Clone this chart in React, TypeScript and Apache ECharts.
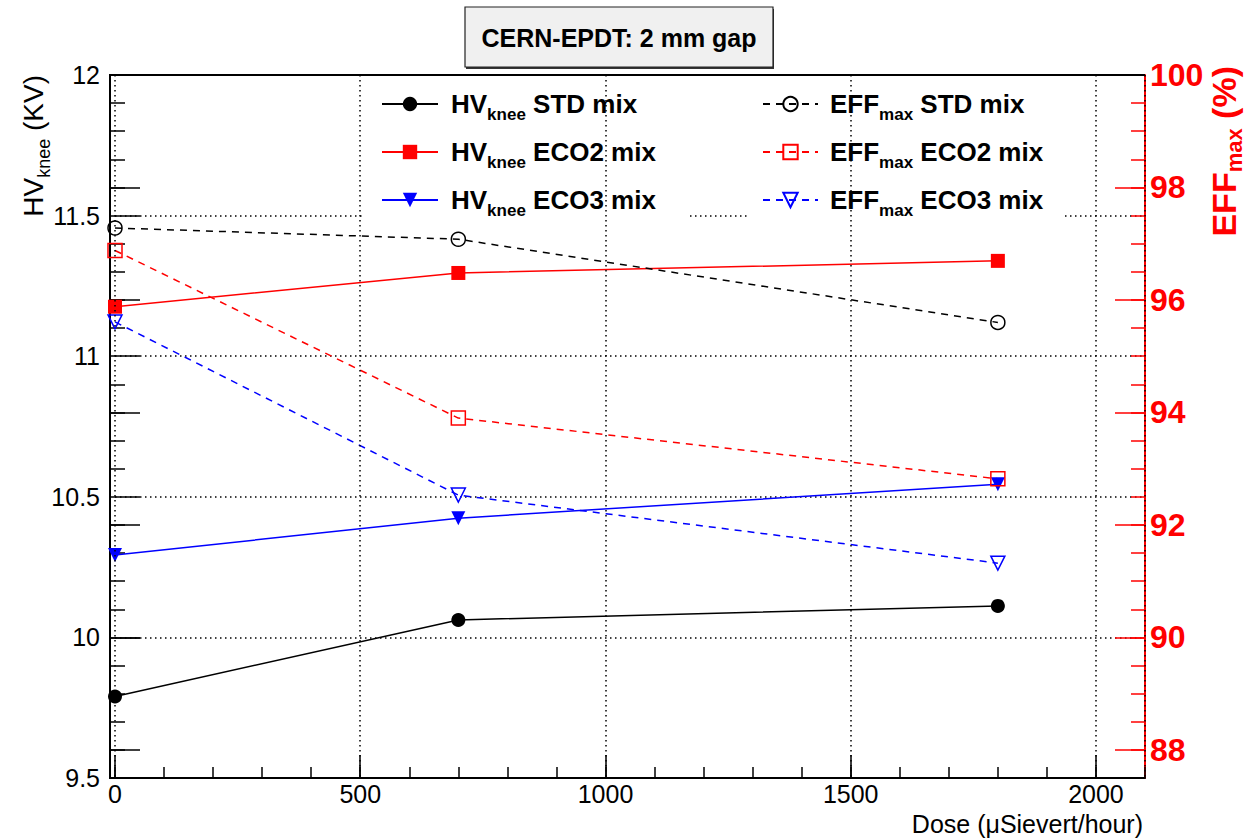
import React, { useEffect, useRef } from 'react';
import * as echarts from 'echarts';

// ---- data ----
const doses = [0, 700, 1800];
const hvStd = [9.79, 10.062, 10.112];
const hvEco2 = [11.176, 11.296, 11.339];
const hvEco3 = [10.293, 10.424, 10.545];
const effStd = [97.28, 97.08, 95.6];
const effEco2 = [96.88, 93.9, 92.82];
const effEco3 = [95.61, 92.53, 91.32];

const hvNames = ['HV_knee STD mix', 'HV_knee ECO2 mix', 'HV_knee ECO3 mix'];
const effNames = ['EFF_max STD mix', 'EFF_max ECO2 mix', 'EFF_max ECO3 mix'];

const titleText = 'CERN-EPDT: 2 mm gap';
const xTitle = 'Dose (\u03bcSievert/hour)';

const F = '"Liberation Sans", Arial, Helvetica, sans-serif';

function richName(name: string, first: string) {
  const [a, rest] = name.split('_');
  const parts = rest.split(' ');
  const sub = parts[0];
  return `{${first}|${a}}{s|${sub}}{m| ${parts.slice(1).join(' ')}}`;
}

function makeSeries(
  name: string,
  vals: number[],
  yIdx: number,
  color: string,
  symbol: string,
  filled: boolean,
  dashed: boolean,
  rotate = 0
) {
  return {
    type: 'line',
    name,
    xAxisIndex: 0,
    yAxisIndex: yIdx,
    data: doses.map((d, i) => [d, vals[i]]),
    symbol,
    symbolSize: 14,
    symbolRotate: rotate,
    showSymbol: true,
    clip: false,
    z: 3,
    lineStyle: { color, width: 1.5, type: dashed ? [7, 6] : 'solid' },
    itemStyle: filled
      ? { color, borderWidth: 0 }
      : { color: 'rgba(255,255,255,0)', borderColor: color, borderWidth: 1.5 },
    emphasis: { disabled: true },
  };
}

export default function App() {
  const ref = useRef<HTMLDivElement>(null);
  useEffect(() => {
    const chart = echarts.init(ref.current!, null, { renderer: 'svg' });
    const legendRich = (pad: number) => ({
      f: { fontSize: 26, fontWeight: 'bold', fontFamily: F, color: '#000', padding: [0, 0, 0, pad] },
      m: { fontSize: 26, fontWeight: 'bold', fontFamily: F, color: '#000' },
      s: { fontSize: 17, fontWeight: 'bold', fontFamily: F, color: '#000', padding: [20, 0, 0, 0] },
    });
    const noFmt = (v: number) => String(v);
    const option: any = {
      animation: false,
      backgroundColor: '#fff',
      grid: { left: 115, right: 100, top: 75, bottom: 62, containLabel: false },
      xAxis: [
        {
          type: 'value',
          min: 0,
          max: 2100,
          interval: 500,
          position: 'bottom',
          z: 5,
          axisLine: { show: true, onZero: false, lineStyle: { color: '#000', width: 2 } },
          axisTick: { show: true, inside: true, length: 23, lineStyle: { color: '#000', width: 1.5 } },
          axisLabel: { show: true, showMaxLabel: false, color: '#000', fontSize: 25, fontFamily: F, margin: 3, formatter: noFmt },
          splitLine: { show: true, lineStyle: { color: '#000', width: 1.5, type: [1.5, 3.5] } },
        },
        {
          type: 'value',
          min: 0,
          max: 2100,
          interval: 100,
          position: 'bottom',
          z: 5,
          axisLine: { show: false, onZero: false },
          axisTick: { show: true, inside: true, length: 11, lineStyle: { color: '#000', width: 1.5 } },
          axisLabel: { show: false },
          splitLine: { show: false },
        },
      ],
      yAxis: [
        {
          type: 'value',
          min: 9.5,
          max: 12,
          interval: 0.5,
          position: 'left',
          offset: 5,
          axisLine: { show: true, onZero: false, lineStyle: { color: '#000', width: 2 } },
          axisTick: { show: true, inside: true, length: 30, lineStyle: { color: '#000', width: 1.5 } },
          minorTick: { show: true, splitNumber: 5, length: 15, lineStyle: { color: '#000', width: 1.5 } },
          axisLabel: { show: true, color: '#000', fontSize: 25, fontFamily: F, margin: 10, formatter: noFmt },
          splitLine: { show: true, lineStyle: { color: '#000', width: 1.5, type: [1.5, 3.5] } },
        },
        {
          type: 'value',
          min: 87.5,
          max: 100,
          splitNumber: 6,
          position: 'right',
          axisLine: { show: true, onZero: false, lineStyle: { color: '#ff0000', width: 2 } },
          axisTick: { show: true, inside: true, length: 30, lineStyle: { color: '#ff0000', width: 1.5 } },
          axisLabel: {
            show: true,
            showMinLabel: false,
            color: '#ff0000',
            fontSize: 32,
            fontWeight: 'bold',
            fontFamily: F,
            margin: 5,
            formatter: noFmt,
          },
          splitLine: { show: false },
        },
        {
          type: 'value',
          min: 87.5,
          max: 100,
          interval: 0.5,
          position: 'right',
          axisLine: { show: false, onZero: false },
          axisTick: { show: true, inside: true, length: 14, lineStyle: { color: '#ff0000', width: 1.5 } },
          axisLabel: { show: false },
          splitLine: { show: false },
        },
        {
          type: 'value',
          min: 87.5,
          max: 100,
          splitNumber: 6,
          position: 'left',
          offset: 5,
          axisLine: { show: false, onZero: false },
          axisTick: { show: true, inside: true, length: 30, lineStyle: { color: '#000', width: 1.5 } },
          axisLabel: { show: false },
          splitLine: { show: false },
        },
      ],
      legend: [
        {
          data: hvNames,
          orient: 'vertical',
          left: 381,
          top: 91,
          padding: 0,
          itemWidth: 56,
          itemHeight: 18,
          itemGap: 16.5,
          selectedMode: false,
          formatter: (n: string) => richName(n, 'f'),
          textStyle: { rich: legendRich(8) },
        },
        {
          data: effNames,
          orient: 'vertical',
          left: 762,
          top: 91,
          padding: 0,
          itemWidth: 55,
          itemHeight: 18,
          itemGap: 16.5,
          selectedMode: false,
          formatter: (n: string) => richName(n, 'f'),
          textStyle: { rich: legendRich(7) },
        },
      ],
      graphic: [
        // legend background boxes
        { type: 'rect', z: 1, silent: true, shape: { x: 362, y: 85, width: 328, height: 133 }, style: { fill: '#fff' } },
        { type: 'rect', z: 1, silent: true, shape: { x: 748, y: 85, width: 314, height: 133 }, style: { fill: '#fff' } },
        // frame top and bottom-left gap
        { type: 'line', z: 6, silent: true, shape: { x1: 109, y1: 75, x2: 1145, y2: 75 }, style: { stroke: '#000', lineWidth: 2 } },
        { type: 'line', z: 6, silent: true, shape: { x1: 109, y1: 778, x2: 116, y2: 778 }, style: { stroke: '#000', lineWidth: 2 } },
        // title box
        { type: 'rect', z: 6, silent: true, shape: { x: 466, y: 9, width: 308, height: 60 }, style: { fill: '#333' } },
        { type: 'rect', z: 7, silent: true, shape: { x: 465, y: 7, width: 308, height: 60 }, style: { fill: '#f0f0f0', stroke: '#222', lineWidth: 1.2 } },
        {
          type: 'text', z: 8, silent: true, x: 619, y: 38,
          style: { text: titleText, font: `bold 25px ${F}`, fill: '#000', align: 'center', verticalAlign: 'middle', textAlign: 'center', textVerticalAlign: 'middle' },
        },
        // axis titles
        {
          type: 'text', z: 8, silent: true, x: 33, y: 75, rotation: Math.PI / 2,
          style: {
            text: '{m|HV}{s|knee}{m| (KV)}',
            align: 'right', verticalAlign: 'middle', textAlign: 'right', textVerticalAlign: 'middle',
            rich: {
              m: { fontSize: 28, fontFamily: F, fill: '#000', color: '#000' },
              s: { fontSize: 18, fontFamily: F, fill: '#000', color: '#000', padding: [21, 0, 0, 0] },
            },
          },
        },
        {
          type: 'text', z: 8, silent: true, x: 1224, y: 66, rotation: Math.PI / 2,
          style: {
            text: '{m|EFF}{s|max}{m| (%)}',
            align: 'right', verticalAlign: 'middle', textAlign: 'right', textVerticalAlign: 'middle',
            rich: {
              m: { fontSize: 34, fontWeight: 'bold', fontFamily: F, fill: '#ff0000', color: '#ff0000' },
              s: { fontSize: 22, fontWeight: 'bold', fontFamily: F, fill: '#ff0000', color: '#ff0000', padding: [20, 0, 0, 0] },
            },
          },
        },
        {
          type: 'text', z: 8, silent: true, x: 1143, y: 824,
          style: { text: xTitle, font: `25px ${F}`, fill: '#000', align: 'right', verticalAlign: 'middle', textAlign: 'right', textVerticalAlign: 'middle' },
        },
      ],
      series: [
        makeSeries(hvNames[0], hvStd, 0, '#000000', 'circle', true, false),
        makeSeries(hvNames[1], hvEco2, 0, '#ff0000', 'rect', true, false),
        makeSeries(hvNames[2], hvEco3, 0, '#0000ff', 'triangle', true, false, 180),
        makeSeries(effNames[0], effStd, 1, '#000000', 'circle', false, true),
        makeSeries(effNames[1], effEco2, 1, '#ff0000', 'rect', false, true),
        makeSeries(effNames[2], effEco3, 1, '#0000ff', 'triangle', false, true, 180),
      ],
    };
    chart.setOption(option);
    return () => chart.dispose();
  }, []);
  return <div ref={ref} style={{ position: 'fixed', left: 0, top: 0, width: 1245, height: 840 }} />;
}
